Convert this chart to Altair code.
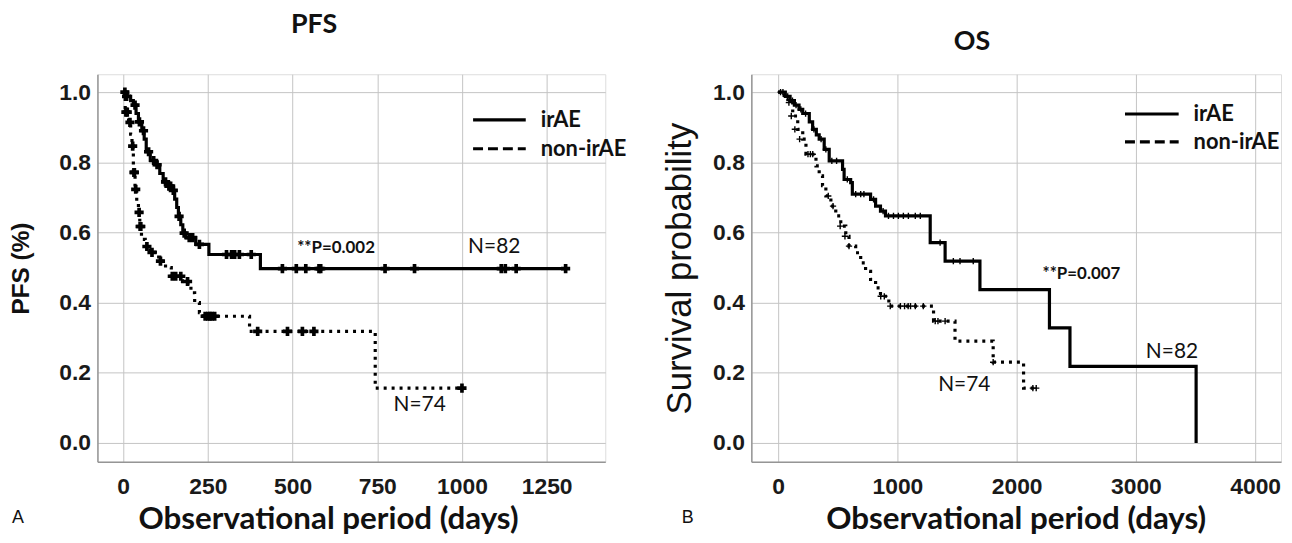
import altair as alt
import pandas as pd

# ---------------- data ----------------
# PFS, irAE group: step points (day, probability)
pfs_ir_t = [0, 12, 22, 30, 38, 45, 55, 62, 68, 80, 95, 108, 118, 130, 145, 152, 158, 163, 170, 176, 185, 214, 253, 405, 1306]
pfs_ir_s = [1.0, 0.988, 0.976, 0.963, 0.939, 0.915, 0.890, 0.866, 0.83, 0.805, 0.793, 0.768, 0.744, 0.732, 0.72, 0.695, 0.671, 0.646, 0.622, 0.598, 0.585, 0.566, 0.537, 0.497, 0.497]
pfs_ir_ct = [5, 10, 35, 48, 60, 75, 90, 100, 125, 135, 140, 148, 165, 180, 195, 205, 225, 305, 320, 329, 343, 378, 470, 511, 539, 578, 583, 773, 860, 1116, 1128, 1160, 1306]
pfs_ir_cs = [1.0, 0.988, 0.963, 0.915, 0.890, 0.83, 0.805, 0.793, 0.744, 0.732, 0.732, 0.72, 0.646, 0.598, 0.585, 0.585, 0.566, 0.537, 0.537, 0.537, 0.537, 0.537, 0.497, 0.497, 0.497, 0.497, 0.497, 0.497, 0.497, 0.497, 0.497, 0.497, 0.497]

# PFS, non-irAE group
pfs_non_t = [0, 6, 16, 22, 26, 30, 35, 40, 45, 49, 54, 65, 79, 95, 108, 125, 142, 175, 191, 200, 211, 225, 236, 373, 744, 1000]
pfs_non_s = [1.0, 0.943, 0.914, 0.88, 0.846, 0.771, 0.723, 0.69, 0.657, 0.617, 0.58, 0.56, 0.543, 0.53, 0.518, 0.50, 0.475, 0.46, 0.446, 0.428, 0.40, 0.371, 0.361, 0.318, 0.156, 0.156]
pfs_non_ct = [8, 12, 20, 28, 32, 33, 37, 47, 50, 52, 70, 85, 110, 145, 155, 170, 190, 242, 250, 256, 262, 270, 397, 485, 529, 563, 1000]
pfs_non_cs = [0.943, 0.943, 0.914, 0.846, 0.771, 0.771, 0.723, 0.657, 0.617, 0.617, 0.56, 0.543, 0.518, 0.475, 0.475, 0.475, 0.46, 0.361, 0.361, 0.361, 0.361, 0.361, 0.318, 0.318, 0.318, 0.318, 0.156]

# OS, irAE group
os_ir_t = [0, 60, 100, 136, 175, 206, 261, 289, 320, 344, 386, 428, 540, 553, 608, 622, 775, 817, 858, 900, 1275, 1400, 1692, 2275, 2447, 3505]
os_ir_s = [1.0, 0.988, 0.976, 0.963, 0.951, 0.939, 0.915, 0.894, 0.878, 0.866, 0.837, 0.804, 0.78, 0.751, 0.742, 0.709, 0.694, 0.675, 0.661, 0.647, 0.571, 0.518, 0.437, 0.328, 0.218, 0.0]
os_ir_ct = [20, 40, 80, 120, 150, 190, 230, 300, 360, 400, 450, 490, 580, 650, 692, 719, 800, 880, 925, 967, 1008, 1050, 1092, 1150, 1192, 1358, 1469, 1525, 1636]
os_ir_cs = [1.0, 1.0, 0.988, 0.976, 0.963, 0.951, 0.939, 0.894, 0.866, 0.837, 0.804, 0.804, 0.751, 0.709, 0.709, 0.709, 0.694, 0.661, 0.647, 0.647, 0.647, 0.647, 0.647, 0.647, 0.647, 0.571, 0.518, 0.518, 0.518]

# OS, non-irAE group
os_non_t = [0, 50, 81, 122, 164, 206, 233, 317, 344, 372, 400, 442, 483, 525, 567, 594, 650, 692, 733, 775, 817, 858, 928, 1303, 1483, 1803, 2058, 2170]
os_non_s = [1.0, 0.985, 0.97, 0.932, 0.894, 0.866, 0.823, 0.79, 0.761, 0.733, 0.704, 0.675, 0.647, 0.618, 0.589, 0.561, 0.542, 0.513, 0.489, 0.466, 0.442, 0.418, 0.39, 0.347, 0.29, 0.23, 0.156, 0.156]
os_non_ct = [90, 110, 140, 180, 250, 270, 290, 420, 460, 520, 560, 594, 860, 890, 940, 1025, 1060, 1090, 1110, 1150, 1217, 1317, 1340, 1400, 1803, 2136, 2164]
os_non_cs = [0.97, 0.932, 0.894, 0.866, 0.823, 0.823, 0.823, 0.704, 0.675, 0.618, 0.589, 0.561, 0.418, 0.418, 0.39, 0.39, 0.39, 0.39, 0.39, 0.39, 0.39, 0.347, 0.347, 0.347, 0.23, 0.156, 0.156]

groups = ["irAE", "non-irAE"]
pfs_ticks = [0, 250, 500, 750, 1000, 1250]
os_ticks = [0, 1000, 2000, 3000, 4000]
y_ticks = [0.0, 0.2, 0.4, 0.6, 0.8, 1.0]

# ---------------- styling ----------------
H = 390
W1 = 511
W2 = 533
Y_DOM = [-0.054, 1.051]
GRID = "#c4c4c4"
DOMAIN = "#959595"
CAL = "Lato"
ARI = "Liberation Sans"


def curve(t, s):
    return pd.DataFrame({"t": t, "s": s})


def panel(xdom, xticks, xtitle_x, ytitle, ytitle_weight, ytitle_size, ytitle_pad,
          ir_t, ir_s, ir_ct, ir_cs, non_t, non_s, non_ct, non_cs,
          censor_shape, censor_size, censor_filled, W,
          texts, legend):
    xs = alt.Scale(domain=xdom, nice=False, zero=False)
    ys = alt.Scale(domain=Y_DOM, nice=False, zero=False)
    xax = alt.Axis(values=xticks, format="d", grid=True, gridColor=GRID, gridWidth=1,
                   domainColor=DOMAIN, domainWidth=1.5, ticks=False,
                   labelFont=ARI, labelFontWeight="bold", labelFontSize=23,
                   labelColor="#1a1a1a", labelPadding=14, labelFlush=False,
                   labelOverlap=False,
                   title="Observational period (days)", titleFont=CAL,
                   titleFontWeight="bold", titleFontSize=31.5, titleColor="#111",
                   titlePadding=5, titleX=xtitle_x, titleAlign="center")
    yax = alt.Axis(values=y_ticks, format=".1f", grid=True, gridColor=GRID,
                   gridWidth=1, domainColor=DOMAIN, domainWidth=1.5,
                   ticks=False, labelFont=ARI, labelFontWeight="bold",
                   labelFontSize=23, labelColor="#1a1a1a", labelPadding=7,
                   title=ytitle, titleFont=ARI, titleFontWeight=ytitle_weight,
                   titleFontSize=ytitle_size, titleColor="#111",
                   titlePadding=ytitle_pad)

    base_ir = alt.Chart(curve(ir_t, ir_s)).mark_line(
        interpolate="step-after", color="black", strokeWidth=3.2
    ).encode(x=alt.X("t:Q", scale=xs, axis=xax), y=alt.Y("s:Q", scale=ys, axis=yax))
    base_non = alt.Chart(curve(non_t, non_s)).mark_line(
        interpolate="step-after", color="black", strokeWidth=3.2,
        strokeDash=[3, 5]
    ).encode(x=alt.X("t:Q", scale=xs), y=alt.Y("s:Q", scale=ys))

    cens = alt.Chart(pd.concat([curve(ir_ct, ir_cs), curve(non_ct, non_cs)])).mark_point(
        shape=censor_shape, size=censor_size, filled=censor_filled,
        color="black", strokeWidth=1.4, opacity=1
    ).encode(x=alt.X("t:Q", scale=xs), y=alt.Y("s:Q", scale=ys))

    layers = [base_ir, base_non, cens]

    # legend
    lx1, lx2, ly1, ly2, ltx = legend
    layers.append(alt.Chart(pd.DataFrame({"g": [groups[0]]})).mark_rule(
        color="black", strokeWidth=3.2).encode(
        x=alt.value(lx1), x2=alt.value(lx2), y=alt.value(ly1)))
    layers.append(alt.Chart(pd.DataFrame({"g": [groups[1]]})).mark_rule(
        color="black", strokeWidth=3.2, strokeDash=[10, 5]).encode(
        x=alt.value(lx1), x2=alt.value(lx2), y=alt.value(ly2)))
    layers.append(alt.Chart(pd.DataFrame({"g": groups, "yy": [ly1, ly2]})).mark_text(
        font=CAL, fontWeight="bold", fontSize=22, align="left", baseline="middle",
        color="#111").encode(text="g:N", x=alt.value(ltx), y=alt.Y("yy:Q", scale=None)))

    for (txt, px, py, font, size, weight, align) in texts:
        layers.append(alt.Chart(pd.DataFrame({"txt": [txt]})).mark_text(
            font=font, fontSize=size, fontWeight=weight, align=align,
            baseline="middle", color="#111").encode(
            text="txt:N", x=alt.value(px), y=alt.value(py)))

    return alt.layer(*layers).properties(width=W, height=H)


left = panel(
    [-76, 1423], pfs_ticks, 232, "PFS (%)", "bold", 24.5, 25,
    pfs_ir_t, pfs_ir_s, pfs_ir_ct, pfs_ir_cs,
    pfs_non_t, pfs_non_s, pfs_non_ct, pfs_non_cs,
    "cross", 85, True, W1,
    [("PFS", 218, -50, CAL, 27, "bold", "center"),
     ("**P=0.002", 201, 175, CAL, 17, "bold", "left"),
     ("N=82", 373, 174, CAL, 21, "normal", "left"),
     ("N=74", 298, 333, CAL, 21, "normal", "left"),
     ("A", -86, 447, ARI, 18, "normal", "left")],
    (378, 431, 46, 75, 446),
)

right = panel(
    [-225, 4217], os_ticks, 266, "Survival probability", "normal", 35, 15,
    os_ir_t, os_ir_s, os_ir_ct, os_ir_cs,
    os_non_t, os_non_s, os_non_ct, os_non_cs,
    "M-1,0L1,0M0,-1L0,1", 40, False, W2,
    [("OS", 222, -32, CAL, 27, "bold", "center"),
     ("**P=0.007", 293, 201, CAL, 17, "bold", "left"),
     ("N=74", 188, 313, CAL, 21, "normal", "left"),
     ("N=82", 397, 280, CAL, 21, "normal", "left"),
     ("B", -70, 447, ARI, 18, "normal", "left")],
    (376, 430, 40, 68, 445),
)

chart = alt.hconcat(left, right, spacing=35).properties(
    padding={"left": 0, "top": 0, "right": 2, "bottom": 2}
).configure_view(strokeWidth=0).configure(background="white")

chart.save("out.html", embed_options={"renderer": "svg", "actions": False})
